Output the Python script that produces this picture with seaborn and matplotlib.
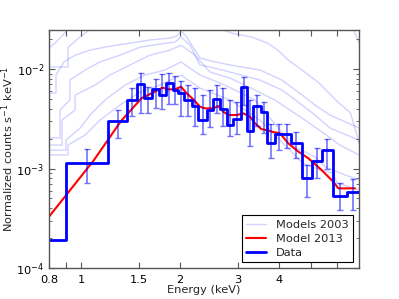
import matplotlib
matplotlib.use("Agg")
import matplotlib.pyplot as plt
import seaborn as sns
import numpy as np
import pandas as pd
from matplotlib.ticker import FixedLocator, FixedFormatter, LogLocator, NullFormatter

# ---------------- data ----------------
# Data histogram: bin edges (keV) and normalized counts
data_edges = [0.800, 0.901, 1.209, 1.381, 1.484, 1.556, 1.649, 1.728, 1.810, 1.901,
              1.977, 2.062, 2.172, 2.274, 2.413, 2.526, 2.648, 2.775, 2.906, 3.060,
              3.205, 3.342, 3.520, 3.670, 3.890, 4.115, 4.344, 4.704, 5.053, 5.394,
              5.826, 6.428, 7.004]
data_vals = [1.9e-4, 1.14e-3, 3.03e-3, 4.9e-3, 7.1e-3, 5.1e-3, 6.3e-3, 5.5e-3, 7.3e-3, 6.2e-3,
             5.7e-3, 4.87e-3, 4.27e-3, 3.07e-3, 3.9e-3, 4.95e-3, 4.0e-3, 2.73e-3, 3.13e-3, 6.6e-3,
             2.37e-3, 4.3e-3, 3.7e-3, 1.79e-3, 2.2e-3, 2.2e-3, 1.79e-3, 7.96e-4, 1.19e-3, 1.53e-3,
             5.3e-4, 5.75e-4]
data_lo = [np.nan, 7.2e-4, 2.04e-3, 3.4e-3, 3.6e-3, 3.6e-3, 4.1e-3, 4.0e-3, 4.5e-3, 4.5e-3,
           3.4e-3, 3.4e-3, 2.7e-3, 2.2e-3, 2.6e-3, 3.6e-3, 2.65e-3, 2.1e-3, 2.2e-3, 4.4e-3,
           1.7e-3, 2.65e-3, 2.3e-3, 1.27e-3, 1.53e-3, 1.6e-3, 1.27e-3, 5.2e-4, 7.96e-4, 1.0e-3,
           3.8e-4, 3.8e-4]
data_hi = [np.nan, 1.58e-3, 3.9e-3, 6.4e-3, 9.2e-3, 6.6e-3, 7.9e-3, 8.9e-3, 9.2e-3, 8.6e-3,
           7.5e-3, 6.9e-3, 6.4e-3, 5.5e-3, 6.2e-3, 6.9e-3, 6.4e-3, 4.9e-3, 4.7e-3, 8.4e-3,
           4.9e-3, 5.5e-3, 4.7e-3, 2.8e-3, 2.8e-3, 2.8e-3, 2.35e-3, 1.08e-3, 1.6e-3, 2.0e-3,
           7.1e-4, 7.8e-4]

# Model 2013
m13_E = [0.80, 1.096, 1.324, 1.53, 1.64, 1.77, 1.85, 1.93, 2.015, 2.097, 2.197, 2.301,
         2.384, 2.526, 2.616, 2.71, 2.806, 2.977, 3.117, 3.266, 3.383, 3.53, 3.89, 4.03,
         4.27, 4.58, 4.91, 5.39, 5.85, 6.06, 6.81]
m13_v = [3.28e-4, 1.217e-3, 3.0e-3, 5.1e-3, 5.7e-3, 6.5e-3, 6.25e-3, 6.25e-3, 6.64e-3, 5.7e-3,
         4.96e-3, 4.18e-3, 4.03e-3, 4.03e-3, 4.25e-3, 3.72e-3, 3.45e-3, 3.45e-3, 3.59e-3, 3.32e-3,
         2.85e-3, 2.5e-3, 2.31e-3, 2.26e-3, 1.79e-3, 1.48e-3, 1.27e-3, 9.66e-4, 7.37e-4, 6.32e-4,
         6.32e-4]

# Models 2003
m03_1_E = [0.800, 0.834, 0.876, 0.914, 0.960, 1.20, 1.60, 2.0, 3.0, 4.5, 6.13, 6.70, 6.85, 7.0]
m03_1_v = [1.63e-2, 1.82e-2, 2.15e-2, 2.5e-2, 2.9e-2, 3.6e-2, 4.0e-2, 4.4e-2, 4.2e-2, 3.6e-2,
           3.0e-2, 2.6e-2, 2.2e-2, 1.85e-2]
m03_2_E = [0.800, 0.914, 0.914, 0.994, 1.066, 1.104, 1.5, 2.0, 2.69, 2.87, 3.30, 3.70, 3.97,
           4.27, 4.70, 5.30, 5.95, 6.60, 6.90, 7.0]
m03_2_v = [1.05e-2, 1.05e-2, 1.66e-2, 2.10e-2, 2.5e-2, 2.78e-2, 3.2e-2, 3.4e-2, 2.5e-2, 2.30e-2,
           2.10e-2, 1.82e-2, 1.55e-2, 1.23e-2, 9.77e-3, 7.23e-3, 4.88e-3, 3.61e-3, 2.17e-3, 1.80e-3]
m03_3_E = [0.800, 0.840, 0.840, 0.889, 0.960, 1.066, 1.226, 1.411, 1.622, 1.866, 1.959, 2.015,
           2.087, 2.301, 2.557, 2.840, 3.503, 4.084, 4.704, 5.147, 5.717, 7.004]
m03_3_v = [5.74e-3, 5.74e-3, 8.71e-3, 1.18e-2, 1.38e-2, 1.55e-2, 1.70e-2, 1.82e-2, 1.96e-2, 2.05e-2,
           2.15e-2, 2.41e-2, 2.15e-2, 1.29e-2, 1.18e-2, 1.10e-2, 9.77e-3, 7.75e-3, 5.48e-3, 4.35e-3,
           3.45e-3, 2.55e-3]
m03_4_E = [0.800, 0.864, 0.864, 0.926, 0.926, 1.029, 1.143, 1.315, 1.513, 1.740, 1.932, 2.015,
           2.147, 2.301, 2.557, 2.840, 3.503, 4.084, 4.704, 5.147, 5.717, 7.004]
m03_4_v = [2.03e-3, 2.03e-3, 3.87e-3, 4.88e-3, 7.75e-3, 9.77e-3, 1.18e-2, 1.38e-2, 1.66e-2, 1.78e-2,
           1.87e-2, 2.10e-2, 1.74e-2, 1.10e-2, 1.02e-2, 9.33e-3, 7.75e-3, 6.15e-3, 4.35e-3, 3.45e-3,
           2.55e-3, 1.93e-3]
m03_5_E = [0.800, 0.876, 0.876, 0.960, 0.960, 1.104, 1.226, 1.411, 1.622, 1.866, 2.015, 2.222,
           2.469, 2.840, 3.383, 3.890, 4.321, 4.799, 5.406, 6.131, 7.004]
m03_5_v = [1.72e-3, 1.72e-3, 3.07e-3, 3.87e-3, 5.48e-3, 6.90e-3, 8.71e-3, 1.10e-2, 1.38e-2, 1.55e-2,
           1.74e-2, 1.38e-2, 9.33e-3, 8.12e-3, 6.15e-3, 4.88e-3, 3.87e-3, 3.07e-3, 2.33e-3, 1.72e-3,
           1.37e-3]
m03_6_E = [0.800, 0.901, 0.901, 0.994, 1.066, 1.184, 1.362, 1.566, 1.802, 2.015, 2.301, 2.742,
           3.383, 3.757, 4.474, 5.147, 5.520, 6.349, 7.004]
m03_6_v = [1.53e-3, 1.53e-3, 1.93e-3, 2.55e-3, 3.45e-3, 4.88e-3, 6.90e-3, 8.71e-3, 9.77e-3, 1.18e-2,
           8.71e-3, 6.90e-3, 4.88e-3, 3.22e-3, 1.64e-3, 1.31e-3, 1.04e-3, 8.61e-4, 7.7e-4]
m03_7_E = [0.800, 0.914, 0.914, 1.029, 1.143, 1.315, 1.513, 1.740, 2.015, 2.301, 2.840, 3.503,
           4.321, 4.704, 5.330, 5.838, 6.004, 7.004]
m03_7_v = [1.37e-3, 1.37e-3, 1.72e-3, 2.17e-3, 3.07e-3, 4.35e-3, 5.87e-3, 6.90e-3, 8.71e-3, 6.44e-3,
           4.88e-3, 3.07e-3, 1.53e-3, 1.14e-3, 9.7e-4, 9.01e-4, 7.15e-4, 6.1e-4]

models03 = [(m03_1_E, m03_1_v), (m03_2_E, m03_2_v), (m03_3_E, m03_3_v), (m03_4_E, m03_4_v),
            (m03_5_E, m03_5_v), (m03_6_E, m03_6_v), (m03_7_E, m03_7_v)]

xtick_vals = [0.8, 0.9, 1, 1.5, 2, 3, 4, 5, 6]
xtick_labels = ["0.8", "", "1", "1.5", "2", "3", "4", "", ""]
ytick_vals = [1e-4, 1e-3, 1e-2]
ytick_labels = [r"$10^{-4}$", r"$10^{-3}$", r"$10^{-2}$"]

# ---------------- plot ----------------
FS = 8.2
sns.set_style("ticks")
plt.rcParams.update({
    "font.family": ["DejaVu Sans"],
    "xtick.direction": "in", "ytick.direction": "in",
    "xtick.top": True, "ytick.right": True,
    "axes.edgecolor": "#555555",
    "axes.linewidth": 1.0,
})

fig = plt.figure(figsize=(3.99, 2.99), dpi=100)
ax = fig.add_axes([49 / 399, 1 - 268 / 299, 310 / 399, 238 / 299])
ax.set_xscale("log")
ax.set_yscale("log")

first = True
for E, v in models03:
    df = pd.DataFrame({"E": E, "v": v})
    sns.lineplot(data=df, x="E", y="v", ax=ax, sort=False, estimator=None,
                 color="#3333ff", alpha=0.22, lw=1.0,
                 label="Models 2003" if first else None, legend=False)
    first = False
h03 = ax.get_lines()[0]

df13 = pd.DataFrame({"E": m13_E, "v": m13_v})
sns.lineplot(data=df13, x="E", y="v", ax=ax, sort=False, estimator=None,
             color="red", lw=1.5, label="Model 2013", legend=False)
h13 = ax.get_lines()[-1]

dfd = pd.DataFrame({"E": data_edges, "v": list(data_vals) + [data_vals[-1]]})
sns.lineplot(data=dfd, x="E", y="v", ax=ax, sort=False, estimator=None,
             color="blue", lw=2.0, drawstyle="steps-post", label="Data", legend=False)
hd = ax.get_lines()[-1]

edges = np.array(data_edges)
centers = np.sqrt(edges[:-1] * edges[1:])
vals = np.array(data_vals)
lo = np.array(data_lo)
hi = np.array(data_hi)
ax.errorbar(centers, vals, yerr=[vals - lo, hi - vals], fmt="none",
            ecolor="blue", alpha=0.55, elinewidth=1.2, capsize=2.5, capthick=1.0)

ax.set_xlim(0.8, 7.004)
ax.set_ylim(1e-4, 2.47e-2)
ax.xaxis.set_major_locator(FixedLocator(xtick_vals))
ax.xaxis.set_major_formatter(FixedFormatter(xtick_labels))
ax.xaxis.set_minor_locator(FixedLocator([]))
ax.yaxis.set_major_locator(FixedLocator(ytick_vals))
ax.yaxis.set_major_formatter(FixedFormatter(ytick_labels))
ax.yaxis.set_minor_locator(LogLocator(base=10, subs=np.arange(2, 10)))
ax.yaxis.set_minor_formatter(NullFormatter())
ax.tick_params(which="major", length=4, width=0.8, labelsize=FS, colors="#555555",
               labelcolor="black")
ax.tick_params(axis="x", which="major", pad=5)
ax.tick_params(axis="y", which="major", pad=3.5)
ax.tick_params(which="minor", length=2, width=0.6, colors="#555555")

ax.set_xlabel("Energy (keV)", fontsize=FS)
ax.xaxis.set_label_coords(0.5, -0.071)
ax.set_ylabel(r"Normalized counts s$^{-1}$ keV$^{-1}$", fontsize=FS)
ax.yaxis.set_label_coords(-0.105, 0.5)

leg = ax.legend(handles=[h03, h13, hd], labels=["Models 2003", "Model 2013", "Data"],
                loc="lower right", fontsize=FS, frameon=True, fancybox=False,
                framealpha=1, edgecolor="black", borderaxespad=0.5,
                handlelength=1.7, handletextpad=0.9, labelspacing=0.35)
leg.get_frame().set_linewidth(0.8)

fig.savefig("out.png", dpi=100)
